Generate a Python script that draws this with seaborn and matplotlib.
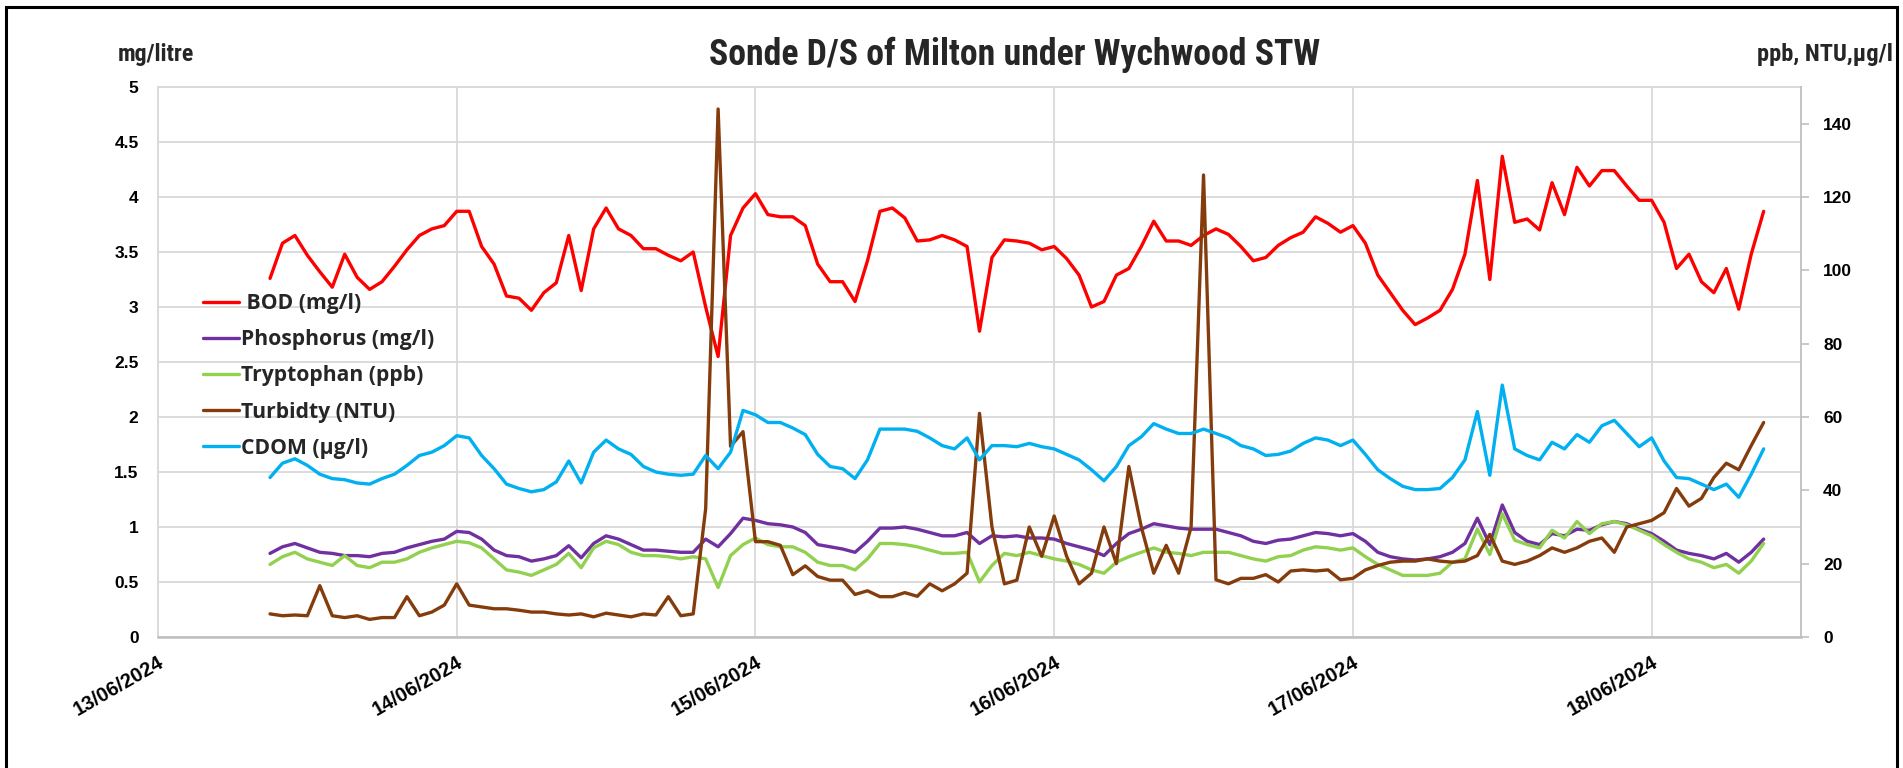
import matplotlib
matplotlib.use("Agg")
import matplotlib.pyplot as plt
from matplotlib import font_manager
from matplotlib.lines import Line2D
from matplotlib.patches import Rectangle
import pandas as pd
import seaborn as sns

# Hourly sonde readings, first reading 13/06/2024 09:00
first_reading = "2024-06-13 09:00"

bod = [
    3.26, 3.58, 3.65, 3.47, 3.32, 3.18, 3.48, 3.27, 3.16, 3.23, 3.37, 3.52, 3.65, 3.71, 3.74,
    3.87, 3.87, 3.55, 3.39, 3.10, 3.08, 2.97, 3.13, 3.22, 3.65, 3.15, 3.71, 3.90, 3.71, 3.65, 3.53,
    3.53, 3.47, 3.42, 3.50, 3.00, 2.55, 3.65, 3.90,
    4.03, 3.84, 3.82, 3.82, 3.74, 3.39, 3.23, 3.23, 3.05, 3.42, 3.87, 3.90, 3.81, 3.60, 3.61, 3.65,
    3.61, 3.55, 2.78, 3.45, 3.61, 3.60, 3.58, 3.52,
    3.55, 3.44, 3.29, 3.00, 3.05, 3.29, 3.35, 3.55, 3.78, 3.60, 3.60, 3.56, 3.65, 3.71, 3.66, 3.55,
    3.42, 3.45, 3.56, 3.63, 3.68, 3.82, 3.76, 3.68,
    3.74, 3.58, 3.29, 3.13, 2.97, 2.84, 2.90, 2.97, 3.16, 3.48, 4.15, 3.25, 4.37, 3.77, 3.80, 3.70,
    4.13, 3.84, 4.27, 4.10, 4.24, 4.24, 4.10, 3.97,
    3.97, 3.77, 3.35, 3.48, 3.23, 3.13, 3.35, 2.98, 3.48, 3.87,
]

phosphorus = [
    0.76, 0.82, 0.85, 0.81, 0.77, 0.76, 0.74, 0.74, 0.73, 0.76, 0.77, 0.81, 0.84, 0.87, 0.89,
    0.96, 0.95, 0.89, 0.79, 0.74, 0.73, 0.69, 0.71, 0.74, 0.83, 0.72, 0.85, 0.92, 0.89, 0.84, 0.79,
    0.79, 0.78, 0.77, 0.77, 0.89, 0.82, 0.94, 1.08,
    1.06, 1.03, 1.02, 1.00, 0.95, 0.84, 0.82, 0.80, 0.77, 0.87, 0.99, 0.99, 1.00, 0.98, 0.95, 0.92,
    0.92, 0.95, 0.85, 0.92, 0.91, 0.92, 0.90, 0.90,
    0.89, 0.85, 0.82, 0.79, 0.74, 0.85, 0.94, 0.98, 1.03, 1.01, 0.99, 0.98, 0.98, 0.98, 0.95, 0.92,
    0.87, 0.85, 0.88, 0.89, 0.92, 0.95, 0.94, 0.92,
    0.94, 0.87, 0.77, 0.73, 0.71, 0.70, 0.71, 0.73, 0.77, 0.85, 1.08, 0.84, 1.20, 0.95, 0.87, 0.84,
    0.94, 0.92, 0.98, 0.97, 1.02, 1.05, 1.03, 0.98,
    0.94, 0.87, 0.79, 0.76, 0.74, 0.71, 0.76, 0.68, 0.77, 0.89,
]

tryptophan = [
    19.8, 21.9, 23.1, 21.3, 20.4, 19.5, 22.2, 19.5, 18.9, 20.4, 20.4, 21.3, 23.1, 24.3, 25.2,
    26.1, 25.7, 24.3, 21.3, 18.3, 17.7, 16.8, 18.3, 19.8, 22.8, 18.9, 24.3, 26.1, 25.2, 23.1, 22.2,
    22.2, 21.9, 21.3, 21.9, 21.3, 13.5, 22.2, 25.2,
    27.0, 25.2, 24.6, 24.6, 23.1, 20.4, 19.5, 19.5, 18.3, 21.3, 25.5, 25.5, 25.2, 24.6, 23.7, 22.8,
    22.8, 23.1, 15.0, 19.5, 22.8, 22.2, 23.1, 22.2,
    21.3, 20.7, 19.8, 18.3, 17.4, 20.4, 21.9, 23.1, 24.3, 23.1, 22.8, 22.2, 23.1, 23.1, 23.1, 22.2,
    21.3, 20.7, 21.9, 22.2, 23.7, 24.6, 24.3, 23.7,
    24.3, 21.9, 19.8, 18.3, 16.8, 16.8, 16.8, 17.4, 20.4, 21.3, 29.4, 22.5, 33.6, 26.4, 25.2, 24.3,
    29.1, 27.0, 31.5, 28.2, 30.9, 31.5, 30.6, 29.1,
    27.6, 25.2, 23.1, 21.3, 20.4, 18.9, 19.8, 17.4, 20.7, 25.5,
]

turbidity = [
    6.3, 5.8, 6.0, 5.8, 14.0, 5.8, 5.3, 5.8, 4.8, 5.3, 5.3, 11.0, 5.8, 6.8, 8.7,
    14.5, 8.7, 8.2, 7.7, 7.7, 7.3, 6.8, 6.8, 6.3, 6.0, 6.3, 5.5, 6.5, 6.0, 5.5, 6.3,
    6.0, 11.0, 5.8, 6.3, 35.0, 144.0, 52.0, 56.0,
    26.0, 26.0, 25.0, 17.0, 19.4, 16.5, 15.5, 15.5, 11.6, 12.6, 11.0, 11.0, 12.1, 11.1, 14.5, 12.6,
    14.5, 17.4, 61.0, 30.0, 14.5, 15.5, 30.0, 22.0,
    33.0, 22.0, 14.5, 17.4, 30.0, 20.0, 46.5, 30.0, 17.4, 25.0, 17.4, 30.0, 126.0, 15.6, 14.5, 16.0,
    16.0, 17.0, 15.0, 18.0, 18.3, 18.0, 18.3, 15.6,
    16.0, 18.3, 19.5, 20.4, 20.7, 20.7, 21.3, 20.7, 20.4, 20.7, 22.2, 28.0, 20.7, 19.8, 20.7, 22.2,
    24.3, 23.1, 24.3, 26.1, 27.0, 23.1, 30.0, 30.9,
    31.8, 33.9, 40.5, 35.7, 37.8, 43.5, 47.4, 45.6, 52.2, 58.5,
]

cdom = [
    43.5, 47.4, 48.6, 46.8, 44.4, 43.2, 42.9, 42.0, 41.7, 43.2, 44.4, 46.8, 49.5, 50.4, 52.2,
    54.9, 54.3, 49.5, 45.9, 41.7, 40.5, 39.6, 40.2, 42.3, 48.0, 42.0, 50.4, 53.7, 51.3, 49.8, 46.5,
    45.0, 44.4, 44.1, 44.4, 49.5, 45.9, 50.4, 61.8,
    60.6, 58.5, 58.5, 57.0, 55.2, 49.8, 46.5, 45.9, 43.2, 48.3, 56.7, 56.7, 56.7, 56.1, 54.3, 52.2,
    51.3, 54.3, 48.3, 52.2, 52.2, 51.9, 52.8, 51.9,
    51.3, 49.8, 48.3, 45.6, 42.6, 46.5, 52.2, 54.6, 58.2, 56.7, 55.5, 55.5, 56.7, 55.5, 54.3, 52.2,
    51.3, 49.5, 49.8, 50.7, 52.8, 54.3, 53.7, 52.2,
    53.7, 49.8, 45.6, 43.2, 41.1, 40.2, 40.2, 40.5, 43.5, 48.3, 61.5, 44.1, 68.7, 51.3, 49.5, 48.3,
    53.1, 51.3, 55.2, 53.1, 57.6, 59.1, 55.5, 51.9,
    54.3, 48.0, 43.5, 43.2, 41.7, 40.2, 41.7, 38.1, 44.4, 51.3,
]

series_names = [" BOD (mg/l)", "Phosphorus (mg/l)", "Tryptophan (ppb)", "Turbidty (NTU)", "CDOM (µg/l)"]
series_colors = ["#FF0000", "#7030A0", "#92D050", "#843C0C", "#00B0F0"]

left_ticks = [0, 0.5, 1, 1.5, 2, 2.5, 3, 3.5, 4, 4.5, 5]
right_ticks = [0, 20, 40, 60, 80, 100, 120, 140]
date_ticks = ["2024-06-13", "2024-06-14", "2024-06-15", "2024-06-16", "2024-06-17", "2024-06-18"]

title_text = "Sonde D/S of Milton under Wychwood STW"
left_unit = "mg/litre"
right_unit = "ppb, NTU,µg/l"


def available(*families):
    for fam in families:
        try:
            font_manager.findfont(font_manager.FontProperties(family=fam),
                                  fallback_to_default=False)
            return fam
        except ValueError:
            continue
    return "DejaVu Sans"


sns.set_theme(style="white")
body_font = available("Liberation Sans", "Arial", "DejaVu Sans")
narrow_font = available("Liberation Sans Narrow", "Roboto Condensed", "Roboto", "DejaVu Sans")
legend_font = available("Open Sans", "Lato", "DejaVu Sans")
plt.rcParams["font.family"] = [body_font, "DejaVu Sans"]

W, H = 1903, 768
fig = plt.figure(figsize=(W / 100, H / 100), dpi=100)
fig.patch.set_facecolor("white")

px_left, px_right, px_top, px_bottom = 158, 1801, 87, 637
ax = fig.add_axes([px_left / W, 1 - px_bottom / H,
                   (px_right - px_left) / W, (px_bottom - px_top) / H])
ax2 = ax.twinx()

times = pd.date_range(first_reading, periods=len(bod), freq="h")
frame = pd.DataFrame({
    "time": times, "bod": bod, "phosphorus": phosphorus,
    "tryptophan": tryptophan, "turbidity": turbidity, "cdom": cdom,
})

lw = 2.4
for col, color, target in [("bod", series_colors[0], ax),
                           ("phosphorus", series_colors[1], ax),
                           ("tryptophan", series_colors[2], ax2),
                           ("turbidity", series_colors[3], ax2),
                           ("cdom", series_colors[4], ax2)]:
    sns.lineplot(data=frame, x="time", y=col, ax=target, color=color,
                 linewidth=lw, legend=False)

for a in (ax, ax2):
    a.set_xlabel("")
    a.set_ylabel("")
    for s in a.spines.values():
        s.set_visible(False)

ax.set_xlim(pd.Timestamp("2024-06-13 00:00"), pd.Timestamp("2024-06-18 12:00"))
ax.set_ylim(0, 5)
ax2.set_ylim(0, 150)

grid_color = "#D9D9D9"
ax.set_axisbelow(True)
ax.grid(True, color=grid_color, linewidth=1.3)
ax2.grid(False)

ax.spines["bottom"].set_visible(True)
ax.spines["bottom"].set_color("#BFBFBF")
ax.spines["bottom"].set_linewidth(1.8)
ax.spines["left"].set_visible(True)
ax.spines["left"].set_color(grid_color)
ax.spines["left"].set_linewidth(1.3)
ax.spines["top"].set_visible(True)
ax.spines["top"].set_color(grid_color)
ax.spines["top"].set_linewidth(1.3)
ax2.spines["right"].set_visible(True)
ax2.spines["right"].set_color("#BFBFBF")
ax2.spines["right"].set_linewidth(1.3)

date_values = pd.to_datetime(date_ticks)
ax.set_xticks(date_values, labels=[d.strftime("%d/%m/%Y") for d in date_values],
              rotation=30, ha="right", rotation_mode="anchor",
              fontweight="bold", fontsize=14.5)
ax.set_yticks(left_ticks, labels=[f"{v:g}" for v in left_ticks],
              fontweight="bold", fontsize=12.5)
ax2.set_yticks(right_ticks, labels=[str(v) for v in right_ticks],
               fontweight="bold", fontsize=12.5)
ax.tick_params(axis="x", length=0, pad=11, colors="black")
ax.tick_params(axis="y", length=0, pad=14, colors="black")
ax2.tick_params(axis="y", length=6, width=1.2, color="#BFBFBF", pad=10,
                labelcolor="black")

handles = [Line2D([], [], color=c, linewidth=lw) for c in series_colors]
ax2.legend(handles, series_names, loc="upper left",
           bbox_to_anchor=(203 / W, 1 - 293 / H), bbox_transform=fig.transFigure,
           frameon=False, borderpad=0, borderaxespad=0,
           handlelength=1.7, handletextpad=0.12, labelspacing=0.72,
           prop={"family": legend_font, "weight": "bold", "size": 15.2})

title = fig.text(1015 / W, 1 - 55 / H, title_text, ha="center", va="center",
                 fontsize=20, fontweight="bold", family=narrow_font)
unit_l = fig.text(156 / W, 1 - 55 / H, left_unit, ha="center", va="center",
                  fontsize=13, fontweight="bold", family=narrow_font)
unit_r = fig.text(1893 / W, 1 - 55 / H, right_unit, ha="right", va="center",
                  fontsize=13, fontweight="bold", family=narrow_font)

# scale header texts to their target widths in pixels
fig.canvas.draw()
renderer = fig.canvas.get_renderer()
for txt, width_px in [(title, 611), (unit_l, 76), (unit_r, 135)]:
    bb = txt.get_window_extent(renderer)
    txt.set_fontsize(txt.get_fontsize() * width_px / bb.width)

fig.patches.append(Rectangle((6 / W, -0.02), (1897 - 6) / W, 1.02 - 7 / H,
                             transform=fig.transFigure, fill=False,
                             edgecolor="black", linewidth=2.2))

fig.savefig("out.png", dpi=100, facecolor="white")
